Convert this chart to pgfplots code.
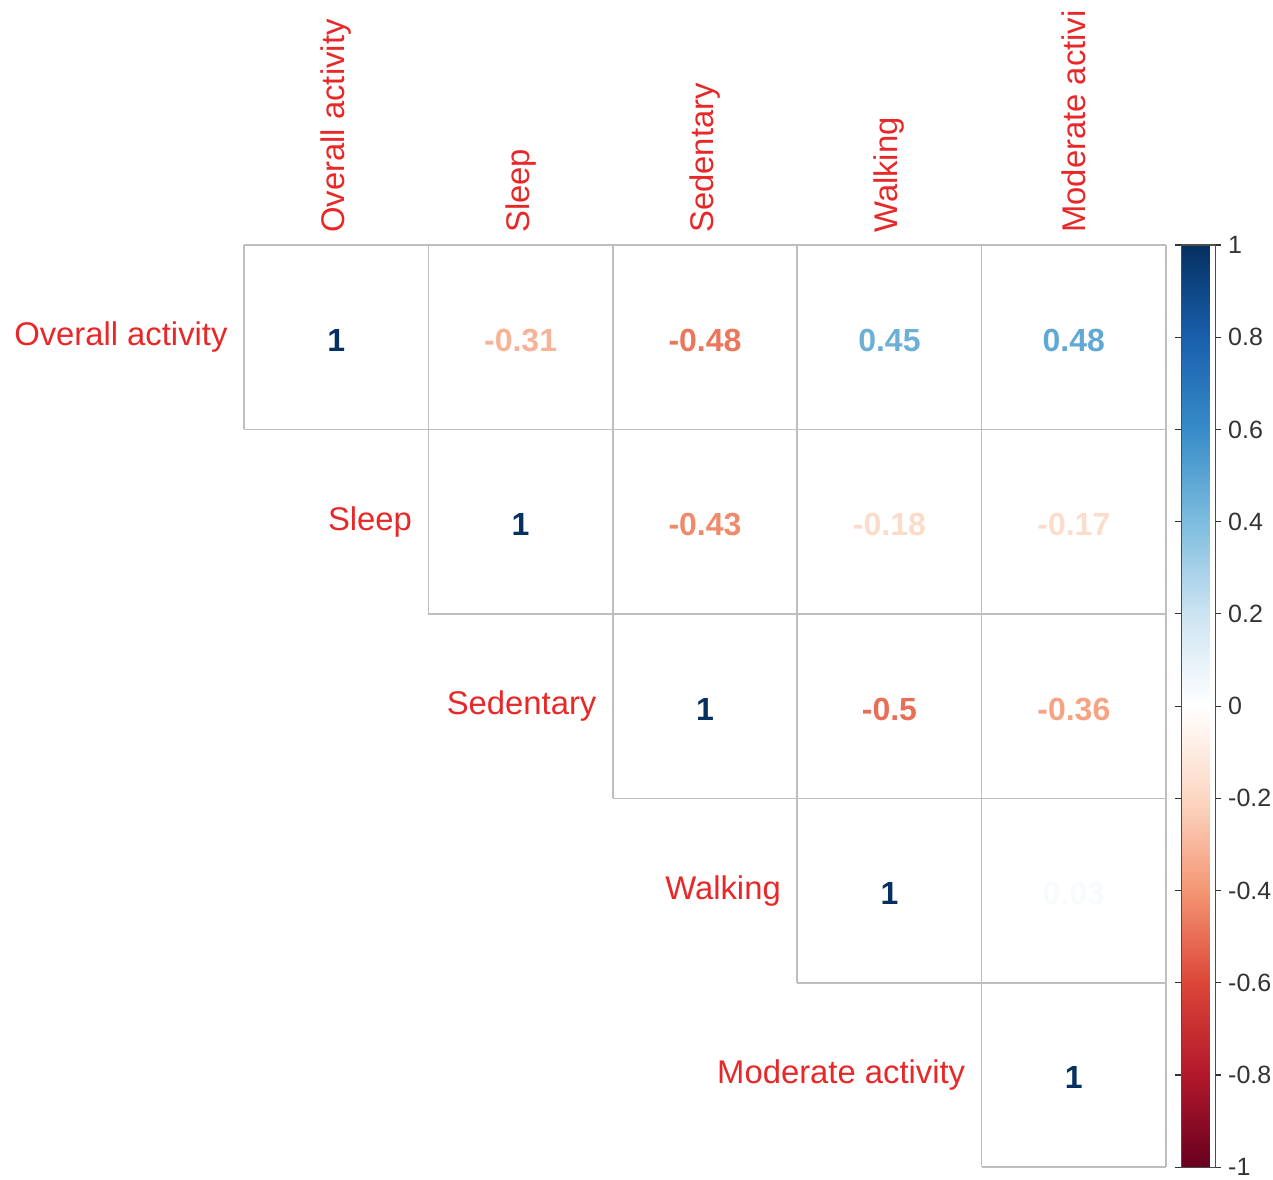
\documentclass[border=0pt]{standalone}
\usepackage{pgfplots}
\pgfplotsset{compat=1.18}
\usepackage{pgfplotstable}
\usepackage{fontspec}
\setmainfont{Liberation Sans}
\definecolor{lblred}{RGB}{232,40,40}
\definecolor{gridgray}{RGB}{190,190,190}
\pgfplotstableread{
x y r
0.5 0.5 1
1.5 0.5 -0.31
2.5 0.5 -0.48
3.5 0.5 0.45
4.5 0.5 0.48
1.5 1.5 1
2.5 1.5 -0.43
3.5 1.5 -0.18
4.5 1.5 -0.17
2.5 2.5 1
3.5 2.5 -0.5
4.5 2.5 -0.36
3.5 3.5 1
4.5 3.5 0.03
4.5 4.5 1
}\corrdata
\begin{document}
\begin{tikzpicture}
\begin{axis}[
  scale only axis, width=461pt, height=461pt,
  xmin=0, xmax=5, ymin=0, ymax=5, y dir=reverse,
  axis line style={draw=none}, xtick=\empty, ytick=\empty,
  clip=false,
  colormap={rdbu}{rgb255=(103,0,31) rgb255=(178,24,43) rgb255=(220,70,55) rgb255=(243,150,115) rgb255=(252,215,195) rgb255=(255,255,255) rgb255=(205,228,242) rgb255=(125,188,222) rgb255=(55,140,200) rgb255=(25,95,172) rgb255=(5,48,97)},
  point meta min=-1, point meta max=1,
  colorbar,
  colorbar style={
    at={(parent axis.north east)}, anchor=north west, xshift=-1pt,
    scale only axis, width=17pt, height=461pt,
    ytick={-1,-0.8,-0.6,-0.4,-0.2,0,0.2,0.4,0.6,0.8,1},
    yticklabels={-1,-0.8,-0.6,-0.4,-0.2,0,0.2,0.4,0.6,0.8,1},
    yticklabel style={font=\fontsize{12.5}{15}\selectfont, text=black!80},
    tick align=outside, major tick length=3pt,
    tick style={black!80, line width=0.6pt},
    axis line style={black!70, line width=0.6pt},
  },
]
\addplot[gridgray, line width=0.8pt] coordinates {(0,0) (5,0)};
\addplot[gridgray, line width=0.8pt] coordinates {(0,1) (5,1)};
\addplot[gridgray, line width=0.8pt] coordinates {(1,2) (5,2)};
\addplot[gridgray, line width=0.8pt] coordinates {(2,3) (5,3)};
\addplot[gridgray, line width=0.8pt] coordinates {(3,4) (5,4)};
\addplot[gridgray, line width=0.8pt] coordinates {(4,5) (5,5)};
\addplot[gridgray, line width=0.8pt] coordinates {(0,0) (0,1)};
\addplot[gridgray, line width=0.8pt] coordinates {(1,0) (1,2)};
\addplot[gridgray, line width=0.8pt] coordinates {(2,0) (2,3)};
\addplot[gridgray, line width=0.8pt] coordinates {(3,0) (3,4)};
\addplot[gridgray, line width=0.8pt] coordinates {(4,0) (4,5)};
\addplot[gridgray, line width=0.8pt] coordinates {(5,0) (5,5)};
\addplot[only marks, mark=none, point meta=explicit,
  visualization depends on={(\thisrow{r}+1)*500 \as \cmv},
  nodes near coords={\pgfmathprintnumber[fixed, precision=2, assume math mode=true]{\pgfplotspointmeta}},
  nodes near coords align=center,
  every node near coord/.append style={color of colormap={\cmv of rdbu}, font=\bfseries\fontsize{16}{19}\selectfont, yshift=-1.5pt}]
  table[x=x, y=y, meta=r]{\corrdata};
\begin{scope}[every node/.style={text=lblred, font=\fontsize{16.4}{19}\selectfont, inner sep=0pt}]
\node[anchor=east] at (axis cs:-0.087,0.5) {Overall activity};
\node[anchor=east] at (axis cs:0.913,1.5) {Sleep};
\node[anchor=east] at (axis cs:1.913,2.5) {Sedentary};
\node[anchor=east] at (axis cs:2.913,3.5) {Walking};
\node[anchor=east] at (axis cs:3.913,4.5) {Moderate activity};
\node[anchor=west, rotate=90] at (axis cs:0.5,-0.065) {Overall activity};
\node[anchor=west, rotate=90] at (axis cs:1.5,-0.065) {Sleep};
\node[anchor=west, rotate=90] at (axis cs:2.5,-0.065) {Sedentary};
\node[anchor=west, rotate=90] at (axis cs:3.5,-0.065) {Walking};
\node[anchor=west, rotate=90] at (axis cs:4.5,-0.065) {Moderate activi};
\end{scope}
\coordinate (bbA) at (axis cs:-1.323,-1.329);
\coordinate (bbB) at (axis cs:5.580,5.065);
\end{axis}
\pgfresetboundingbox
\path (bbA) rectangle (bbB);
\end{tikzpicture}
\end{document}
